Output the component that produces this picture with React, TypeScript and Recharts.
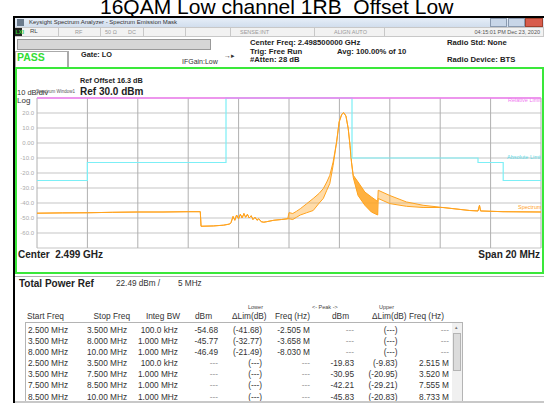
import { ComposedChart, Area, Line, XAxis, YAxis, CartesianGrid } from "recharts"

// offset from center (MHz), trace top / bottom (dBm)
const freqMHz = [-10, -9, -8, -7, -6, -5, -4, -3.52, -3.49, -3.0, -2.6, -2.35, -2.3, -2.22, -2.15, -2.08, -2.0, -1.93, -1.86, -1.79, -1.72, -1.65, -1.58, -1.5, -1.43, -1.35, -1.27, -1.2, -1.1, -1.0, -0.9, -0.6, -0.3, -0.05, 0.0, 0.15, 0.3, 0.45, 0.7, 0.96, 1.2, 1.36, 1.5, 1.62, 1.75, 1.89, 1.99, 2.09, 2.17, 2.26, 2.35, 2.42, 2.48, 2.55, 2.74, 3.01, 3.27, 3.52, 3.54, 4.0, 4.66, 5.32, 6.11, 7.17, 7.5, 7.56, 7.6, 8.49, 10]
const traceHi = [-46.8, -46.6, -46.5, -46.2, -46.0, -46.0, -45.8, -45.8, -55.5, -55.3, -54.8, -54.0, -53, -49, -51.5, -48, -50.5, -47.5, -50, -47, -49.5, -47.5, -50, -48.5, -51, -49.5, -51.5, -50.5, -52.5, -52.8, -52.5, -51.5, -51, -50.5, -46.4, -47, -45.5, -43.8, -40.5, -37, -33.5, -30.4, -26, -21.5, -12.7, 0.7, 14, 19, 20.2, 18, 9.6, -1.5, -12.7, -21.5, -26, -32.7, -36, -39, -31.5, -35, -39.3, -41.5, -43, -45, -45.3, -41.5, -45.3, -45.8, -46]
const traceLo = [-46.8, -46.6, -46.5, -46.2, -46.0, -46.0, -45.8, -45.8, -55.5, -55.3, -54.8, -54.0, -53, -49, -51.5, -48, -50.5, -47.5, -50, -47, -49.5, -47.5, -50, -48.5, -51, -49.5, -51.5, -50.5, -52.5, -52.8, -52.5, -51.5, -51, -50.5, -50.5, -51, -49.5, -48, -46.5, -45, -40, -37, -31.5, -27, -15, 0.7, 14, 19, 20.2, 18, 9.6, -1.5, -12.7, -23, -35, -41.5, -46, -48, -37, -40.4, -42.2, -43, -43, -45, -45.3, -41.5, -45.3, -45.8, -46]

const absFreq = [-10, -8, -2.5, 2.5, 7.5, 8.5, 10]
const absLimit = [-25, -13, 30, -10, -13, -25, -25]
const relFreq = [-10, 10]
const relLimit = [30, 30]

const yTicks = [30, 20, 10, 0, -10, -20, -30, -40, -50, -60, -70]
const xTicks = [-10, -8, -6, -4, -2, 0, 2, 4, 6, 8, 10]

const tableRows = [
  ["2.500 MHz", "3.500 MHz", "100.0 kHz", "-54.68", "(-41.68)", "-2.505 M", "---", "(---)", "---"],
  ["3.500 MHz", "8.000 MHz", "1.000 MHz", "-45.77", "(-32.77)", "-3.658 M", "---", "(---)", "---"],
  ["8.000 MHz", "10.00 MHz", "1.000 MHz", "-46.49", "(-21.49)", "-8.030 M", "---", "(---)", "---"],
  ["2.500 MHz", "3.500 MHz", "100.0 kHz", "---", "(---)", "---", "-19.83", "(-9.83)", "2.515 M"],
  ["3.500 MHz", "7.500 MHz", "1.000 MHz", "---", "(---)", "---", "-30.95", "(-20.95)", "3.520 M"],
  ["7.500 MHz", "8.500 MHz", "1.000 MHz", "---", "(---)", "---", "-42.21", "(-29.21)", "7.555 M"],
  ["8.500 MHz", "10.00 MHz", "1.000 MHz", "---", "(---)", "---", "-45.83", "(-20.83)", "8.733 M"],
]

// the sweep right of the carrier (2.55..3.52 MHz) is drawn densely
const trace = freqMHz.map((f, i) => ({
  f,
  band: [traceLo[i], traceHi[i]],
  dense: f >= 2.5 && f <= 3.52 ? [traceLo[i], traceHi[i]] : null,
}))
const absData = absFreq.map((f, i) => ({ f, v: absLimit[i] }))
const relData = relFreq.map((f, i) => ({ f, v: relLimit[i] }))

const FONT = "'Liberation Sans', Arial, sans-serif"
const ORANGE = "#ffa31e"
const CYAN = "#7ceff6"
const MAGENTA = "#f07cf0"

function T({ x, y, s = 8, b = false, c = "#222", r = false, children }: any) {
  const h = s * 1.2
  const style: any = {
    position: "absolute", top: y - h / 2, fontSize: s, lineHeight: h + "px",
    fontWeight: b ? "bold" : "normal", color: c, whiteSpace: "pre", fontFamily: FONT,
  }
  if (r) style.right = 544 - x
  else style.left = x
  return <div style={style}>{children}</div>
}

function Box({ x, y, w, h, bg = "transparent", bd }: any) {
  return (
    <div style={{ position: "absolute", left: x, top: y, width: w, height: h, background: bg, border: bd, boxSizing: "border-box" }} />
  )
}

const colLeft = [28, 87]
const colRight = [178, 218, 262, 310, 354, 397.5, 449]
const rowY = [330.5, 341.5, 352.5, 363.5, 375, 386, 397.5]

export default function App() {
  return (
    <div style={{ position: "absolute", left: 0, top: 0, width: 544, height: 403, overflow: "hidden", background: "#fff", fontFamily: FONT }}>
      <T x={100} y={6.5} s={21} c="#000">16QAM Low channel 1RB_Offset Low</T>

      {/* window frame */}
      <Box x={14} y={15.5} w={530} h={2} bg="#000" />
      <Box x={13} y={15.5} w={2} h={388} bg="#000" />
      <Box x={15} y={17.5} w={529} h={10} bg="linear-gradient(#e6eef8, #cfdcec)" />
      <Box x={17} y={18.5} w={7} h={7} bg="#6a7a8c" />
      <T x={29} y={22.5} s={6} c="#333">Keysight Spectrum Analyzer - Spectrum Emission Mask</T>
      <Box x={490} y={18} w={17} h={9} bg="#c8d6e8" bd="1px solid #8a9ab0" />
      <Box x={508} y={18} w={17} h={9} bg="#c8d6e8" bd="1px solid #8a9ab0" />
      <Box x={525} y={18} w={18} h={9} bg="#d85c4c" bd="1px solid #a0402c" />

      {/* status row */}
      <Box x={15} y={27} w={529} h={10} bg="#f2f2f2" bd="1px solid #c8c8c8" />
      <Box x={15} y={28} w={7} h={8} bg="#222" />
      <T x={15.5} y={32} s={5.5} b c="#3c3">LXI</T>
      <T x={30} y={32} s={6} c="#444">RL</T>
      {[58, 100, 143, 185, 230, 314, 384].map((x) => (
        <Box key={x} x={x} y={28} w={1} h={8} bg="#c8c8c8" />
      ))}
      <T x={75} y={32} s={5.5} c="#999">RF</T>
      <T x={105} y={32} s={5.5} c="#999">50 Ω</T>
      <T x={128} y={32} s={5.5} c="#999">DC</T>
      <T x={240} y={32} s={5.5} c="#999">SENSE:INT</T>
      <T x={334} y={32} s={5.5} c="#999">ALIGN AUTO</T>
      <T x={540} y={32} s={5.5} c="#555" r>04:15:01 PM Dec 23, 2020</T>

      {/* info area */}
      <Box x={17} y={39} w={194} h={11} bg="#d6d6d6" bd="1px solid #999" />
      <Box x={15} y={51} w={53} h={17} bd="1px solid #aaa" />
      <Box x={68} y={51} w={1} h={17} bg="#aaa" />
      <T x={17} y={57.5} s={10.5} b c="#33dd33">PASS</T>
      <T x={81} y={55} s={7.3} b>Gate: LO</T>
      <T x={182} y={62} s={7} c="#333">IFGain:Low</T>
      <T x={224} y={56} s={7} c="#333">→▸</T>
      <T x={250} y={43} s={7.7} b>Center Freq: 2.498500000 GHz</T>
      <T x={250} y={51.5} s={7.7} b>Trig: Free Run</T>
      <T x={250} y={60} s={7.7} b>#Atten: 28 dB</T>
      <T x={337} y={51.5} s={7.7} b>Avg: 100.00% of 10</T>
      <T x={447} y={43} s={7.7} b>Radio Std: None</T>
      <T x={447} y={60} s={7.7} b>Radio Device: BTS</T>

      {/* green frame */}
      <Box x={15} y={67} w={529} h={207} bd="2px solid #3ae83a" />

      <T x={80} y={81.5} s={7.3} b>Ref Offset 16.3 dB</T>
      <T x={17} y={92} s={7.5} c="#333">10 dB/div</T>
      <T x={36} y={92} s={4.5} c="#555">Spectrum Window1</T>
      <T x={80} y={91.5} s={10} b>Ref 30.0 dBm</T>
      <T x={17} y={101} s={8} c="#333">Log</T>

      <div style={{ position: "absolute", left: 15, top: 95 }}>
        <ComposedChart width={527} height={154} data={trace} margin={{ top: 3, right: 1, bottom: 1, left: 0 }}>
          <CartesianGrid vertical={false} stroke="#d8d8d8" strokeWidth={1.5} />
          <CartesianGrid horizontal={false} stroke="#b0b0b0" strokeWidth={1} />
          <XAxis dataKey="f" type="number" domain={[-10, 10]} ticks={xTicks} hide />
          <YAxis
            type="number"
            domain={[-70, 30]}
            ticks={yTicks}
            interval={0}
            width={22}
            axisLine={false}
            tickLine={false}
            tickSize={0}
            tickMargin={3}
            tick={{ fontSize: 6, fill: "#aaa", fontFamily: FONT }}
            tickFormatter={(v: number) => (v === 30 || v === -70 ? "" : v === 0 ? "0.00" : v.toFixed(1))}
          />
          <Area
            dataKey="band"
            type="linear"
            stroke={ORANGE}
            strokeWidth={1}
            fill={ORANGE}
            fillOpacity={0.38}
            isAnimationActive={false}
          />
          <Area
            dataKey="dense"
            type="linear"
            stroke="none"
            fill={ORANGE}
            fillOpacity={0.75}
            isAnimationActive={false}
          />
          <Line data={absData} dataKey="v" type="stepAfter" stroke={CYAN} strokeWidth={1.2} dot={false} isAnimationActive={false} />
          <Line data={relData} dataKey="v" type="linear" stroke={MAGENTA} strokeWidth={1.5} dot={false} isAnimationActive={false} />
        </ComposedChart>
      </div>

      <div style={{ position: "absolute", left: 480, top: 96, width: 61, height: 120, overflow: "hidden" }}>
        <div style={{ position: "absolute", left: 28, top: 1, fontSize: 5.5, color: MAGENTA, whiteSpace: "nowrap" }}>Relative Limit</div>
        <div style={{ position: "absolute", left: 27, top: 58, fontSize: 5.5, color: "#5ad8e4", whiteSpace: "nowrap" }}>Absolute Limit</div>
        <div style={{ position: "absolute", left: 38, top: 108, fontSize: 5.5, color: ORANGE, whiteSpace: "nowrap" }}>Spectrum</div>
      </div>

      <T x={18} y={255} s={10} b>{"Center  2.499 GHz"}</T>
      <T x={540} y={255} s={10} b r>Span 20 MHz</T>

      {/* results panel */}
      <Box x={15} y={276} w={529} h={1} bg="#b0b0b0" />
      <T x={19} y={284} s={10} b>Total Power Ref</T>
      <T x={116} y={284} s={8.2} c="#333">22.49 dBm /</T>
      <T x={178} y={284} s={8.2} c="#333">5 MHz</T>

      <T x={248} y={307.5} s={5.5} c="#444">Lower</T>
      <T x={312} y={307.5} s={5.5} c="#444">&lt;- Peak -&gt;</T>
      <T x={379} y={307.5} s={5.5} c="#444">Upper</T>
      <T x={27} y={317} s={8.3} c="#333">Start Freq</T>
      <T x={130} y={317} s={8.3} c="#333" r>Stop Freq</T>
      <T x={180} y={317} s={8.3} c="#333" r>Integ BW</T>
      <T x={195} y={317} s={8.3} c="#333">dBm</T>
      <T x={232} y={317} s={8.3} c="#333">ΔLim(dB)</T>
      <T x={310} y={317} s={8.3} c="#333" r>Freq (Hz)</T>
      <T x={332} y={317} s={8.3} c="#333">dBm</T>
      <T x={372} y={317} s={8.3} c="#333">ΔLim(dB)</T>
      <T x={409} y={317} s={8.3} c="#333">Freq (Hz)</T>

      <Box x={25} y={322} w={438} h={90} bd="1px solid #b4b4b4" />
      <Box x={452} y={323} w={10} h={80} bg="#f0f0f0" />
      <Box x={453} y={333} w={8} h={38} bg="#dcdcdc" bd="1px solid #b4b4b4" />
      <T x={455} y={327} s={5} c="#777">▴</T>

      {tableRows.map((row, ri) => (
        <div key={ri}>
          {row.map((cell, ci) =>
            ci < 2 ? (
              <T key={ci} x={colLeft[ci]} y={rowY[ri]} s={8.3} c="#333">{cell}</T>
            ) : (
              <T key={ci} x={colRight[ci - 2]} y={rowY[ri]} s={8.3} c={cell === "---" ? "#999" : "#333"} r>{cell}</T>
            )
          )}
        </div>
      ))}
      <Box x={15} y={401} w={529} h={2} bg="#c8c8c8" />
    </div>
  )
}
